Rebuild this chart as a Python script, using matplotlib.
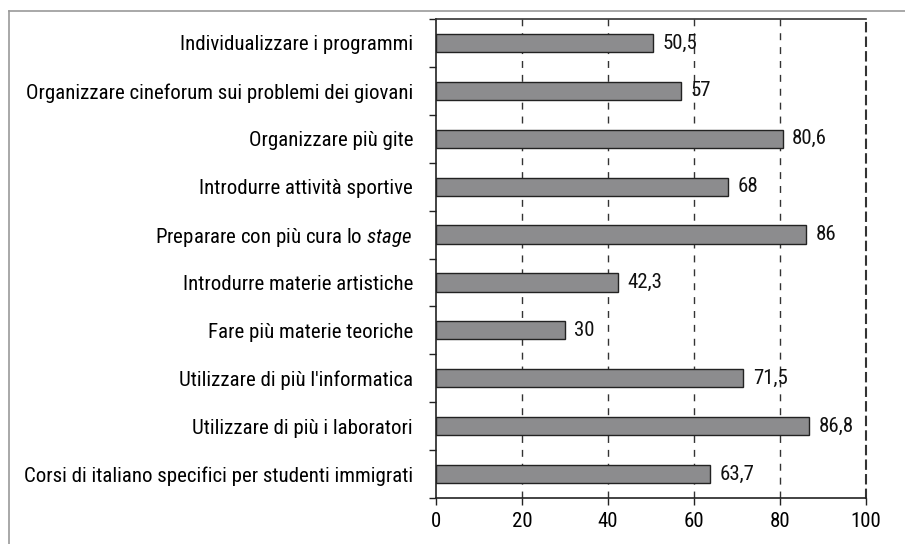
import matplotlib.pyplot as plt
from matplotlib.lines import Line2D

famiglie = ['Liberation Sans Narrow', 'Roboto Condensed', 'Roboto', 'DejaVu Sans']
plt.rcParams['font.family'] = famiglie
plt.rcParams['mathtext.fontset'] = 'custom'
plt.rcParams['mathtext.it'] = 'Roboto Condensed:italic'
plt.rcParams['mathtext.rm'] = 'Roboto Condensed'

# dati
categorie = [
    'Individualizzare i programmi',
    'Organizzare cineforum sui problemi dei giovani',
    'Organizzare più gite',
    'Introdurre attività sportive',
    r'Preparare con più cura lo $\it{stage}$ ',
    'Introdurre materie artistiche',
    'Fare più materie teoriche',
    "Utilizzare di più l'informatica",
    'Utilizzare di più i laboratori',
    'Corsi di italiano specifici per studenti immigrati',
]
valori = [50.5, 57, 80.6, 68, 86, 42.3, 30, 71.5, 86.8, 63.7]
etichette = ['50,5', '57', '80,6', '68', '86', '42,3', '30', '71,5', '86,8', '63,7']
xticks = [0, 20, 40, 60, 80, 100]

fs = 15

fig = plt.figure(figsize=(9.05, 5.44), dpi=100)
ax = fig.add_axes([436 / 905, 1 - 498 / 544, 430 / 905, 479 / 544])

# cornice esterna (solo sinistra e alto)
fig.add_artist(Line2D([9 / 905, 9 / 905], [0, 1 - 11 / 544], transform=fig.transFigure,
                      color='#9a9a9a', lw=1.2))
fig.add_artist(Line2D([9 / 905, 1], [1 - 11 / 544, 1 - 11 / 544], transform=fig.transFigure,
                      color='#9a9a9a', lw=1.2))

n = len(categorie)
pos = list(range(n))
ax.barh(pos, valori, height=0.38, color='#8c8c8e', edgecolor='#222222', linewidth=1.0, zorder=2)

for y, v, t in zip(pos, valori, etichette):
    ax.text(v + 2.2, y, t, va='center', ha='left', fontsize=fs, color='#111111', zorder=3)

ax.set_xlim(0, 100)
ax.set_ylim(n - 0.5, -0.5)
ax.set_xticks(xticks)
ax.set_xticklabels([str(x) for x in xticks], fontsize=fs)

# tick di categoria sui confini
ax.set_yticks([i - 0.5 for i in range(n + 1)])
ax.set_yticklabels([])
ax.set_yticks(pos, minor=True)
ax.set_yticklabels(categorie, minor=True, fontsize=fs)
ax.tick_params(axis='y', which='minor', length=0, pad=16.5)
ax.tick_params(axis='y', which='major', length=5, width=1, direction='out', color='#222222')
ax.tick_params(axis='x', length=5, width=1, direction='out', color='#222222', pad=5)

for x in xticks[1:-1]:
    ax.axvline(x, color='#333333', lw=1, ls=(0, (5, 5)), zorder=1)

ax.spines['right'].set_linestyle((0, (4, 3)))
ax.spines['right'].set_color('#333333')
ax.spines['right'].set_linewidth(1.5)
ax.spines['top'].set_color('#333333')
ax.spines['left'].set_color('#222222')
ax.spines['bottom'].set_color('#222222')
for s in ['top', 'left', 'bottom']:
    ax.spines[s].set_linewidth(1.2)

fig.savefig('out.png', dpi=100)
